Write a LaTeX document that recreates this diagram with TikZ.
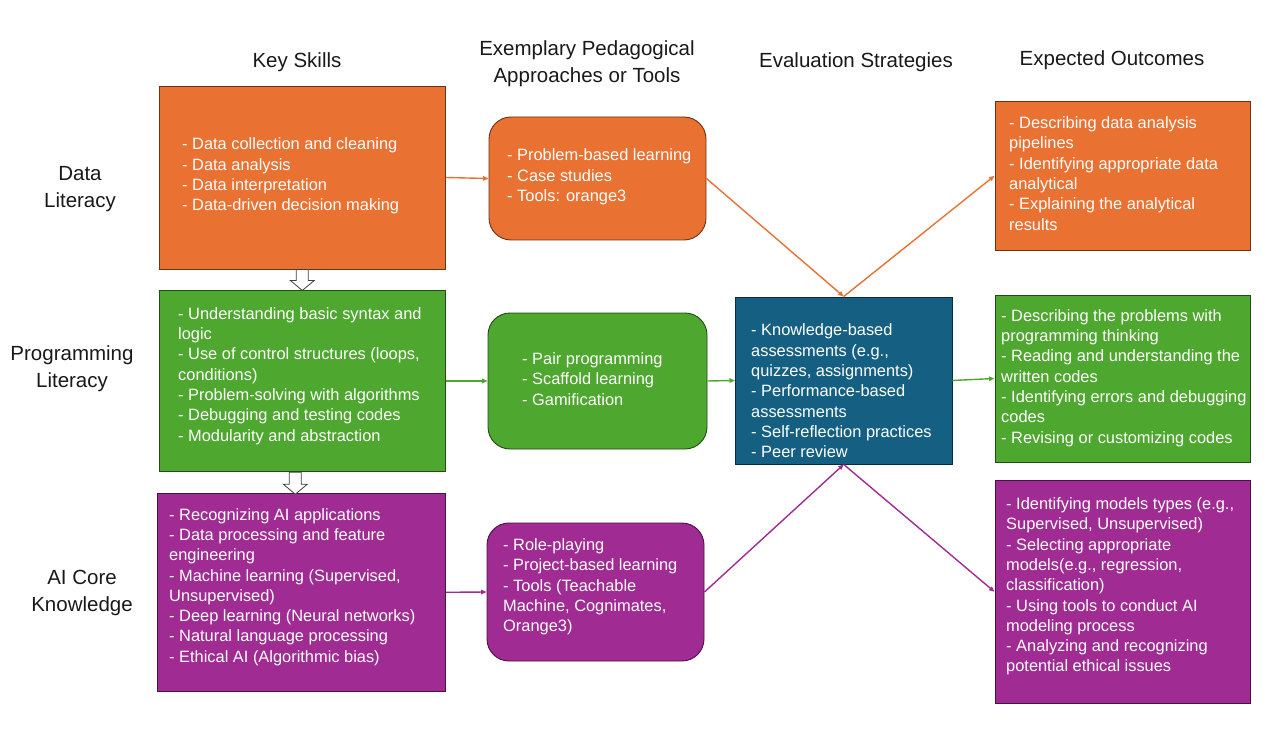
\documentclass[tikz,border=0pt]{standalone}
\usepackage{fontspec}
\setmainfont{Liberation Sans}
\usetikzlibrary{arrows.meta,positioning,calc}
\definecolor{cOr}{RGB}{233,113,50}
\definecolor{cGr}{RGB}{78,167,46}
\definecolor{cPu}{RGB}{160,43,147}
\definecolor{cBl}{RGB}{21,96,130}
\tikzset{
  >={Triangle[length=5.5pt,width=4.5pt]},
  box/.style={draw,minimum width=286.5,inner sep=0pt,line width=0.9pt},
  boxO/.style={box,fill=cOr,draw=cOr!45!black},
  boxG/.style={box,fill=cGr,draw=cGr!45!black},
  boxP/.style={box,fill=cPu,draw=cPu!45!black},
  boxB/.style={box,fill=cBl,draw=cBl!45!black},
  appr/.style={rounded corners=22pt,minimum width=217},    % rounded approach box
  outc/.style={minimum width=255.7},                       % outcome box
  txt/.style={anchor=west,align=left,inner sep=0pt,text=white,
              font=\fontsize{16.4}{20.3}\selectfont},
  head/.style={align=center,inner sep=0pt,text=black!90,
               font=\fontsize{20.5}{27}\selectfont},
  link/.style={->,line width=1.4pt},
  hollow/.style={draw=black!75,fill=white,line width=0.8pt},
}
\begin{document}
\begin{tikzpicture}[x=1pt,y=-1pt]
  \useasboundingbox (0,0) rectangle (1272,730);
  % column and row titles
  \node[head] (hSkill) at (297,62)   {Key Skills};
  \node[head] (hAppr)  at (587,63.5) {Exemplary Pedagogical\\Approaches or Tools};
  \node[head] (hEval)  at (856,62)   {Evaluation Strategies};
  \node[head] (hOut)   at (1112,60)  {Expected Outcomes};
  \node[head] (rData)  at (80,189.5) {Data\\Literacy};
  \node[head] (rProg)  at (72,368.5) {Programming\\Literacy};
  \node[head] (rAI)    at (82,592.5) {AI Core\\Knowledge};
  % key skills
  \node[boxO,minimum height=183]   (dsk) at (302.3,177.5) {};
  \node[boxG,minimum height=181.5] (psk) at (302.3,381)   {};
  \node[boxP,minimum height=198.7,minimum width=288.4] (ask) at (301.5,592.3) {};
  \node[txt] (dskT) at (182,176) {- Data collection and cleaning\\- Data analysis\\- Data interpretation\\- Data-driven decision making};
  \node[txt] (pskT) at (178,376) {- Understanding basic syntax and\\logic\\- Use of control structures (loops,\\conditions)\\- Problem-solving with algorithms\\- Debugging and testing codes\\- Modularity and abstraction};
  \node[txt] (askT) at (169,587) {- Recognizing AI applications\\- Data processing and feature\\engineering\\- Machine learning (Supervised,\\Unsupervised)\\- Deep learning (Neural networks)\\- Natural language processing\\- Ethical AI (Algorithmic bias)};
  % approaches
  \node[boxO,appr,minimum height=123] (dap) at (597.5,178.5) {};
  \node[boxG,appr,minimum height=136,minimum width=219] (pap) at (597.5,381) {};
  \node[boxP,appr,minimum height=138] (aap) at (595.5,592) {};
  \node[txt] (dapT) at (507,177) {- Problem-based learning\\- Case studies\\- Tools: orange3};
  \node[txt] (papT) at (522,379) {- Pair programming\\- Scaffold learning\\- Gamification};
  \node[txt] (aapT) at (503,587) {- Role-playing\\- Project-based learning\\- Tools (Teachable\\Machine, Cognimates,\\Orange3)};
  % evaluation
  \node[boxB,minimum width=216.5,minimum height=167] (ev) at (843.7,380.5) {};
  \node[txt] (evT) at (751,391) {- Knowledge-based\\assessments (e.g.,\\quizzes, assignments)\\- Performance-based\\assessments\\- Self-reflection practices\\- Peer review};
  % outcomes
  \node[boxO,outc,minimum height=148.5] (dout) at (1122.8,175.8) {};
  \node[boxG,outc,minimum height=167]   (pout) at (1122.8,378.5) {};
  \node[boxP,outc,minimum height=222.5] (aout) at (1122.8,591.8) {};
  \node[txt] (doutT) at (1009,173.5) {- Describing data analysis\\pipelines\\- Identifying appropriate data\\analytical\\- Explaining the analytical\\results};
  \node[txt] (poutT) at (1001,378) {- Describing the problems with\\programming thinking\\- Reading and understanding the\\written codes\\- Identifying errors and debugging\\codes\\- Revising or customizing codes};
  \node[txt] (aoutT) at (1006,586.5) {- Identifying models types (e.g.,\\Supervised, Unsupervised)\\- Selecting appropriate\\models(e.g., regression,\\classification)\\- Using tools to conduct AI\\modeling process\\- Analyzing and recognizing\\potential ethical issues};
  % connectors
  \draw[link,cOr] (dsk.east) -- (dap.west);
  \draw[link,cGr] (psk.east) -- (pap.west);
  \draw[link,cPu] (ask.east) -- (aap.west);
  \draw[link,cOr] (dap.east) -- (ev.north);
  \draw[link,cOr] (ev.north) -- (dout.west);
  \draw[link,cGr] (pap.east) -- (ev.west);
  \draw[link,cGr] (ev.east) -- (pout.west);
  \draw[link,cPu] (aap.east) -- (ev.south);
  \draw[link,cPu] (ev.south) -- (aout.west);
  % hollow block arrows between skill boxes
  \draw[hollow] ($(dsk.south)+(-6,0)$) -- ++(0,11) -- ++(-6,0) -- ++(12,10)
    -- ++(12,-10) -- ++(-6,0) -- ++(0,-11) -- cycle;
  \draw[hollow] ($(psk.south)+(-13,0)$) -- ++(0,12) -- ++(-6,0) -- ++(12,10)
    -- ++(12,-10) -- ++(-6,0) -- ++(0,-12) -- cycle;
\end{tikzpicture}
\end{document}
